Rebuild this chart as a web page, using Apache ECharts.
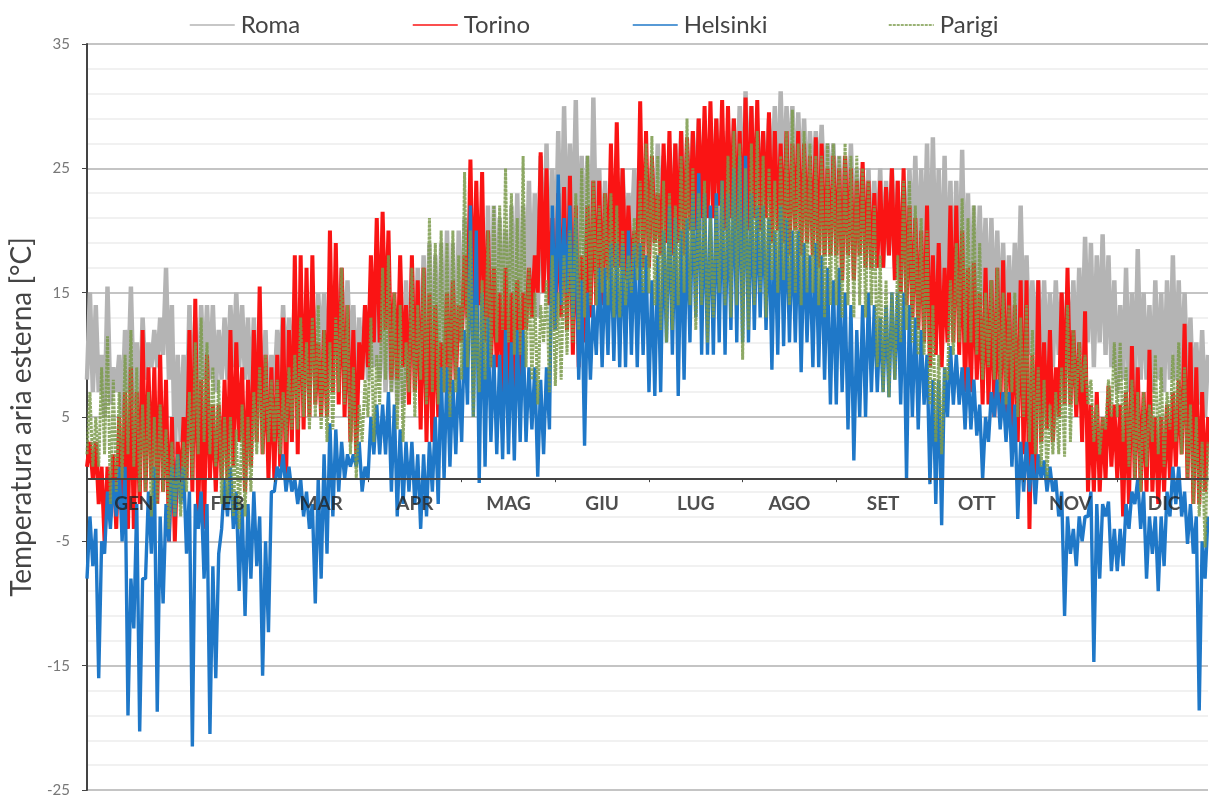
<!DOCTYPE html>
<html>
<head>
<meta charset="utf-8">
<style>html,body{margin:0;padding:0;background:#fff}#chart{width:1209px;height:797px;filter:blur(0.6px)}</style>
<script src="https://cdn.jsdelivr.net/npm/echarts@6/dist/echarts.min.js"></script>
</head>
<body>
<div id="chart"></div>
<script>
var months = ['GEN','FEB','MAR','APR','MAG','GIU','LUG','AGO','SET','OTT','NOV','DIC'];
var yTicks = [-25,-15,-5,5,15,25,35];
var yMinor = [-23,-21,-19,-17,-13,-11,-9,-7,-3,-1,1,3,7,9,11,13,17,19,21,23,27,29,31,33];
// low,high pairs, 16 pairs per month
var roma = [
8,15, 7,14, 7,10, 5,15.5, 6,9, 7,10, 5,12, 7,15.5, 6,11, 5,13, 8,11, 9,12, 9,13, 10,17, 8,14, 2,10,
3,10, 4,14, 5,13, 5,14, 8,14, 8,14, 7,12, 8,13, 8,14, 9,15, 9,14, 8,13, 6,13, 5,12, 6,12, 4,10,
7,12, 8,14, 8,13, 7,15, 8,14, 7,13, 9,15, 8,15, 10,15, 9,14, 10,16, 10,17, 9,16, 9,14, 7,13, 8,14,
8,14, 9,15, 8,16, 7,15, 7,14, 6,15, 6,16, 8,17, 9,17, 8,18, 9,19, 7,18, 8,19, 9,20, 8,19, 8,20,
11,21, 12,22, 11,20, 12,21, 10,22, 11,22, 12,21, 13,20, 12,22, 13,23, 11,22, 14,24, 14,23, 13,26, 15,27, 15,25,
16,28, 17,30, 18,27, 19,30.5, 17,26, 18,26, 16,30.7, 18,25, 17,24, 16,23, 17,24, 18,25, 18,23, 19,25, 18,26, 19,25,
18,25, 19,27, 20,26, 20,26, 19,27, 20,28, 20,27, 21,28, 21,29, 20,28, 21,28, 21,29, 20,28, 21,28, 21,29, 22,30,
21,31.2, 22,30, 22,28, 21,28, 22,29, 23,30, 22,31.2, 23,30, 24,30, 22,29.5, 23,29, 22,28, 23,28, 23,28.5, 22,27, 22,27,
20,26, 19,26, 20,27, 19,25, 20,25, 18,25, 17,24, 18,25, 17,24, 18,25, 17,24, 15,24, 17,25, 18,26, 17,25, 17,27,
15,27.5, 16,25, 14,26, 15,24, 14,24, 15,26.5, 14,23, 13,22, 13,22, 14,21, 12,21, 12,20, 12,19, 11,18, 11,19, 12,22,
11,18, 10,16, 10,16, 9,16, 9,15, 9,16, 10,15, 9,15, 10,16, 9,17, 10,19.5, 11,19, 9,18, 11,19.7, 10,18, 9,16,
7,14, 8,17, 7,15, 7,18.5, 8,15, 8,14, 7,16, 8,15, 7,16, 8,18, 8,16, 8,15, 7,13, 6,11, 6,12, 5,10
];
var torino = [
1,3, 0,3, -2,1, -5,1, -3,2, -4,5, -3,7, -4,9, -4,7, -2,12, -1,9, 0,9, -2,10, -1,8, -5,5, -5,3,
-1,5, 0,12, -1,14.5, -3,8, -4,10, 0,6, -1,6, 0,8, 0,12, 1,11, 3,9, -1,8, 1,12, 3,15.5, 2,10, 0,9,
0,10, 1,13, 0,12, 3,18, 2,18, 4,17, 5,18, 6,11, 5,12, 5,20, 7,19, 6,17, 5,14, 3,12, 2,11, 8,14,
9,18, 11,21, 11,21.5, 12,20, 8,15, 8,18, 9,14, 6,18, 7,16, 4,17, 3,15, 3,14, 5,11, 7,15, 7,16, 8,14,
11,18, 13,25.7, 13,24, 14,24.7, 11,20, 9,17, 9,15, 7,17, 6,15, 7,16, 8,15, 12,17, 13,18, 15,26.3, 15,25, 14,21,
12,23, 13,23.5, 12,24.4, 10,22, 9,18, 11,22, 13,24, 14,24, 14,23, 16,27, 17,28.7, 17,25, 16,22, 16,20, 17,30.4, 17,28,
17,26, 19,23, 18,27, 19,28, 18,27, 19,28, 18,27.5, 20,28, 20,29, 21,30, 21,30.4, 21,29, 22,30.5, 20,30, 21,29, 20,28,
19,30.7, 20,30, 21,30.5, 20,28, 21,29.5, 19,28, 20,27, 19,28, 18,27, 20,28, 18,27, 19,26, 18,27.5, 17,27, 18,25, 18,26,
18,25, 16,26, 18,25, 16,24, 18,25.5, 17,24, 17,23, 17,24, 17,23.5, 18,25, 16,24, 15,25, 14,22, 13,21, 12,20, 11,22,
9,18, 10,19, 9,17, 11,22, 11,22, 10,20, 7,17, 7,17.4, 8,15, 6,17, 6,16, 5,17, 5,17.6, 5,15, 4,14, 3,16,
2,16, -4,10, 0,16, 3,11, 4,12, 3,9, 5,15, 6,17, 6,12, 5,11, 3,13.5, -1,6, -1,7, -1,5, 0,7.5, 1,6,
0,6, -3,7, -2,10.7, 0,9, -1,7, -1,10.4, -1,5, -2,5, -1,6, 0,7, 1,8, 2,12.5, 0,11, -2,9, -2,7, -1,5
];
var helsinki = [
-8,-3, -7,-4, -16,-5, -6,-1, -4,0, -3,1, -5,1, -19,-8, -12,-2, -20.3,-8, -8,-1, -6,1, -18.7,-3, -10,-2, -5,1, -3,2,
-2,1, -6,-1, -21.5,-2, -4,-1, -8,-2, -20.5,-7, -16,-6, -4,0, -3,1, -4,-1, -9,-2, -11,-2, -8,-1, -7,-3, -15.8,-5, -12.3,-1,
-1,1, 0,2, -1,1, -1,0, -2,0, -3,-1, -4,-2, -10,0, -8,2, -6,4.5, -3,4, -1,3, 0,2, 1,2, 1,3, -1,1,
0,5, 2,6, 2,6, 2,7, -1,6, -3,4, -2,3, -1,3, -2,2, -4,2, -3,3, -1,5, -2,9, 0,9, 1,8, 2,9,
3,12, 6,22, 5,20, -0.3,15, 1,13, 3,10, 2,10, 1.6,12, 2,11, 1.5,12, 3,12, 3,9, 4,9, 0.2,8, 2,9, 4,22,
12,24.5, 14,21, 15,22, 13,21, 8,16, 2.7,15, 8,14, 10,17, 9,17, 10,19, 9.5,19, 9,19, 9,20, 10,19, 9,19, 10,18,
7,16, 6.7,18, 7,20, 11,22, 10,21, 6.7,20, 8,21, 11,23, 13,24.6, 10,23, 10,22, 10,23, 11,24, 10,23, 12,25, 11,26,
11,26, 11,23, 12,22, 13,22, 12,21, 8.8,20, 10,22, 10.7,21, 11,20, 11,20, 8.6,19, 11,18, 9,19, 9,18, 8,17, 6,16,
6,17, 7,15, 4,14, 1.5,12, 5,14, 5,15, 7,14, 7,13, 7,14, 6.6,15, 8,15, 6,15, 0,14, 5,13, 4,12, 6,10,
-0.4,8, -2,8, -3.7,9, 5,10.7, 6,10, 6,9, 4,9, 4,8, 3.5,6, 0,5, 3,7, 5,8, 4,7, 3,7, 1,6, -3.2,3,
-1,3, -1,2, -2,2, 0,1.5, -1,1, -1,0, -3,-1, -11,-3, -6,-4, -7,-3, -5,-3, -3,-1, -14.7,-2, -8,-2, -3,-1.8, -7.4,-4,
-7.4,-4, -7,-2, -4,-1, -2,0, -4,-1, -8,-3, -6,-3, -9,-3, -7,-1, -3,1, -2,1, -3,-1, -5.2,-2, -6,-3, -18.6,-5, -8,-3
];
var parigi = [
2,7, 1,5, 1,9, 2,11.5, -2,8, -1,7, 0,10, 2,12, 1,9, -1,6, -1,7, -3,5, -2,6, -1,4, -4,3, -3,2,
-3,3, -1,7, 0,11, 2,13, 3,11, 2,9, 1,8, -2,5, -2,5, -3,4, -4,6, -3,5, -1,7, 2,9, 2,10, 3,8,
3,8, 2,7, 3,9, 4,10, 4,13, 5,11, 4,13, 5,14, 4,12, 3,11, 4,13, 7,17, 6,14, 2,9, 0,6, 3,8,
5,13, 3,10, 6,17, 8,18, 7,15, 4,14, 3,11, 7,17, 5,14, 8,17, 6,21, 7,19, 6,20, 7,19, 5,20, 7,18,
8,24.7, 9,20, 5,14, 7,16, 8,20, 9,22, 11,22, 12,25, 11,23, 10,21, 10,26, 9,17, 8,15, 6,14, 11,16, 7,18,
7.5,15, 8,18, 10,20, 11,23, 12,25, 13,26, 14,24, 14,22, 15,23, 14,23, 13,22, 13,20, 14,18, 15,21, 16,24, 15,27,
15,27.6, 14,26, 12,24, 11,23, 12,22, 14,26, 15,29, 14,25, 12,23, 14,24, 11,21, 13,22, 15,24, 14,26, 13,28, 14,27,
9.6,25, 12,27, 14,28, 15,26, 13,25, 16,24, 15,26, 16,28, 14,29.7, 15,27, 14,28, 15,27, 15,26, 14,26, 13,27, 14,27,
14,26, 13,27, 14,26, 13,26, 14,25, 13,24, 14,22, 9,18, 7,16, 6.6,15, 8,18, 11,24, 12,24, 11,22, 10,21, 10,20,
6,14, 3,10, 2,9, 8,16, 10,19, 11,22.6, 11,21, 11,22, 10,19, 8,15, 9,16, 8,17, 7,15, 6,14, 7,15, 5,13,
5,14, 3,12, 2,9, 1,8, 0,6, 2,7, 2,9, 1.8,14, 3,12, 6,11, 7,10, 6,8, 3,6, 2,5, 4,8, 5,11,
5,11, 3,9, 1,8, 0,7, -1,7, 1,6, 3,10, 2,9, 1,7, 4,10, 3,11, 2,9, 0,6, -2,5, -3,3, -5.5,3
];

var perMonth = 32;
var monthLabelY = -2;
var categories = [];
for (var i = 0; i < roma.length; i++) {
	categories.push(String(i));
}
var monthPoints = [];
for (var m = 0; m < months.length; m++) {
	monthPoints.push({ value: [m * perMonth + perMonth / 2, monthLabelY], name: months[m] });
}

function lineSeries(name, data, color, width, type, opacity) {
	return {
		name: name,
		type: 'line',
		data: data,
		symbol: 'none',
		smooth: false,
		itemStyle: { color: color },
		lineStyle: { color: color, width: width, type: type, opacity: opacity }
	};
}

function legendAt(left, name) {
	return {
		left: left, top: 8, itemWidth: 45, itemHeight: 14, itemGap: 0,
		itemStyle: { opacity: 0 },
		lineStyle: { width: 1.5, opacity: 1 },
		textStyle: { fontSize: 24, color: '#444', fontFamily: 'Lato', padding: [0, 0, 0, 1] },
		data: [name]
	};
}

var chart = echarts.init(document.getElementById('chart'));
chart.setOption({
	animation: false,
	textStyle: { fontFamily: 'Lato' },
	grid: { left: 87, right: 1, top: 44, bottom: 7, outerBoundsMode: 'none' },
	legend: [legendAt(184, 'Roma'), legendAt(407, 'Torino'), legendAt(627, 'Helsinki'), legendAt(883, 'Parigi')],
	xAxis: {
		type: 'category', data: categories, boundaryGap: false, z: 6,
		axisLine: { onZero: true, lineStyle: { color: '#444', width: 2 } },
		axisTick: { length: 3, lineStyle: { color: '#444' }, interval: function (i) { return i % perMonth == 0; } },
		axisLabel: { show: false },
		splitLine: { show: false }
	},
	yAxis: [{
		type: 'value', min: -25, max: 35,
		name: 'Temperatura aria esterna [°C]', nameLocation: 'middle', nameGap: 47,
		nameTextStyle: { fontSize: 28, color: '#444', fontFamily: 'Lato' },
		axisLine: { show: true, onZero: false, lineStyle: { color: '#444', width: 2 } },
		axisTick: { show: true, length: 5, lineStyle: { color: '#444' }, customValues: yTicks },
		axisLabel: { color: '#777', fontSize: 15, margin: 17, customValues: yTicks, formatter: function (v) { return String(v); } },
		splitLine: { show: true, lineStyle: { color: '#c4c4c4', width: 2 } }
	}, {
		type: 'value', min: -25, max: 35, position: 'left',
		axisLine: { show: false },
		axisLabel: { show: false },
		axisTick: { show: false, customValues: yMinor },
		splitLine: { show: true, lineStyle: { color: '#ececec', width: 1.5 } }
	}],
	series: [
		lineSeries('Roma', roma, '#b4b4b4', 4.5, 'solid', 1),
		lineSeries('Torino', torino, '#fa1414', 4, 'solid', 1),
		lineSeries('Helsinki', helsinki, '#1f78c8', 3.4, 'solid', 1),
		lineSeries('Parigi', parigi, '#7a9a4a', 3, [3, 1], 0.85),
		{
			type: 'scatter', data: monthPoints, symbolSize: 0, z: 8, silent: true,
			label: {
				show: true, position: 'inside', fontSize: 19, fontWeight: 'bold', color: '#222', fontFamily: 'Lato',
				formatter: function (p) { return p.name; }
			}
		}
	]
});
</script>
</body>
</html>
